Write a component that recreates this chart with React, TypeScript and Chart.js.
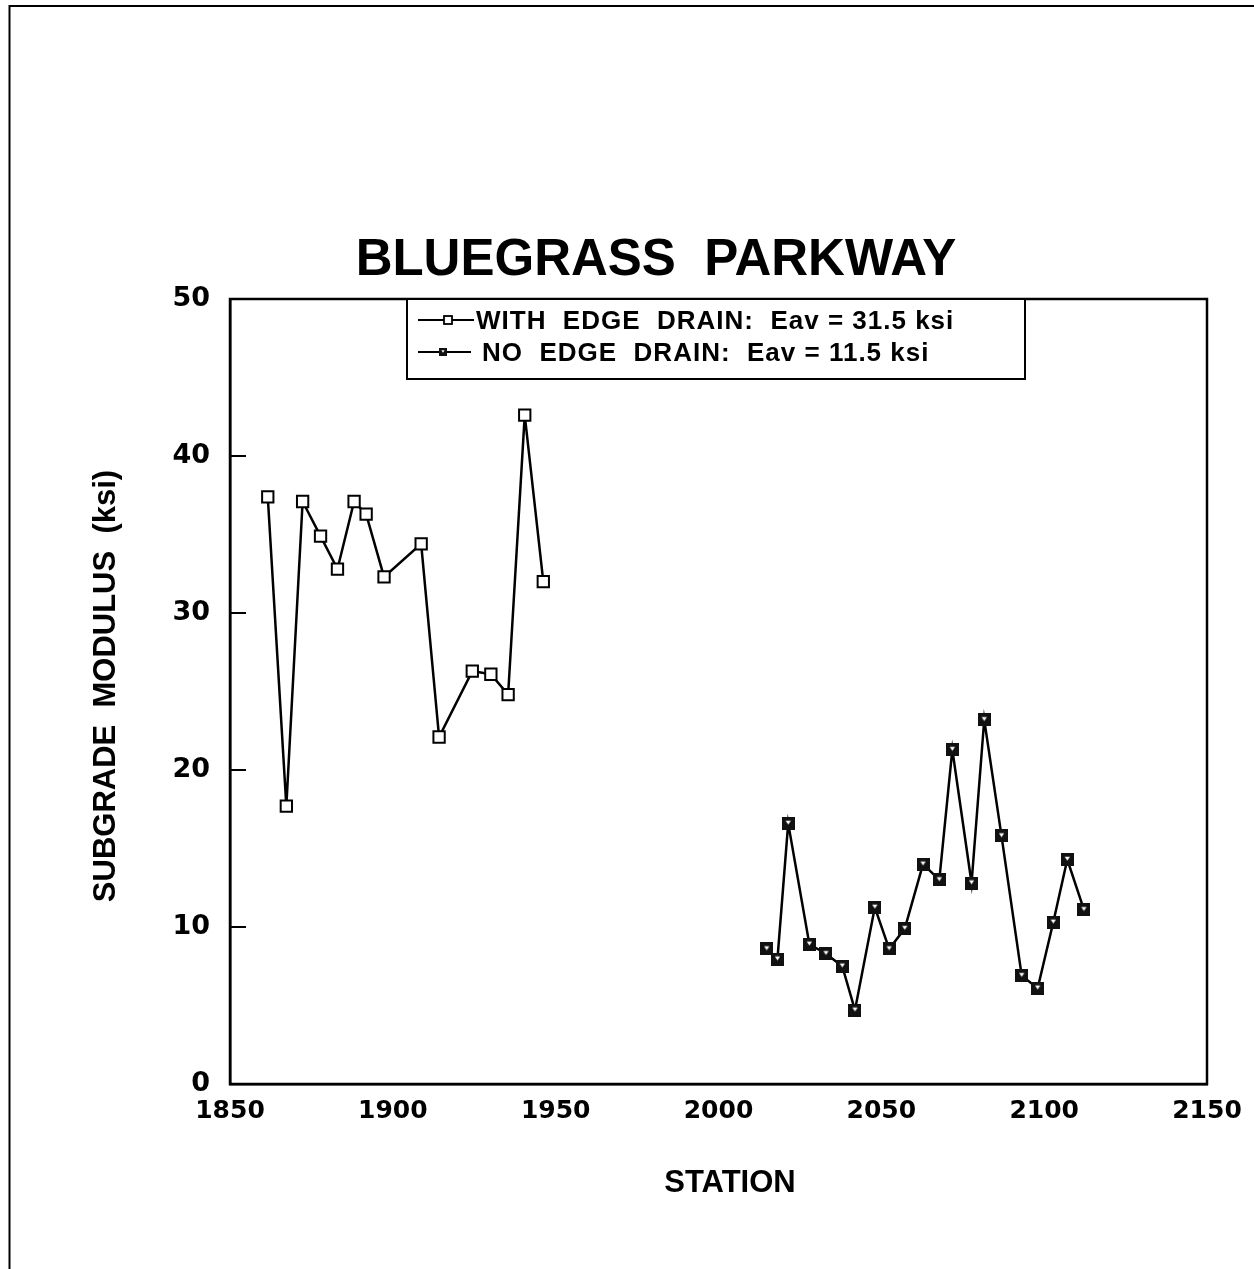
import React, { useEffect, useRef } from "react";
import { Chart, registerables } from "chart.js";

Chart.register(...registerables);

const TITLE = "BLUEGRASS  PARKWAY";
const X_TITLE = "STATION";
const Y_TITLE = "SUBGRADE  MODULUS  (ksi)";

const X_MIN = 1850;
const X_MAX = 2150;
const X_STEP = 50;
const Y_MIN = 0;
const Y_MAX = 50;
const Y_STEP = 10;

const withDrainLabel = "WITH  EDGE  DRAIN:  Eav = 31.5 ksi";
const withDrainStation = [1861.6, 1867.3, 1872.3, 1877.8, 1883.0, 1888.1, 1891.8, 1897.3, 1908.7, 1914.2, 1924.4, 1930.1, 1935.4, 1940.5, 1946.2];
const withDrainModulus = [37.4, 17.7, 37.1, 34.9, 32.8, 37.1, 36.3, 32.3, 34.4, 22.1, 26.3, 26.1, 24.8, 42.6, 32.0];

const noDrainLabel = "NO  EDGE  DRAIN:  Eav = 11.5 ksi";
const noDrainStation = [2014.8, 2018.1, 2021.4, 2027.9, 2033.0, 2038.0, 2041.9, 2048.0, 2052.4, 2057.2, 2062.8, 2067.8, 2071.8, 2077.7, 2081.6, 2086.9, 2093.1, 2098.0, 2102.8, 2107.1, 2112.2];
const noDrainModulus = [8.6, 7.95, 16.6, 8.9, 8.3, 7.5, 4.7, 11.25, 8.6, 9.9, 14.0, 13.0, 21.3, 12.8, 23.2, 15.8, 6.9, 6.1, 10.3, 14.3, 11.1];

const W = 1254;
const H = 1269;

function makeFilledMarker(size: number): HTMLCanvasElement {
  const c = document.createElement("canvas");
  c.width = size;
  c.height = size;
  const g = c.getContext("2d")!;
  g.fillStyle = "#111";
  g.fillRect(0, 0, size, size);
  g.fillStyle = "#fff";
  const m = size / 2;
  g.beginPath();
  g.moveTo(m - size * 0.2, size * 0.28);
  g.lineTo(m + size * 0.2, size * 0.28);
  g.lineTo(m, size * 0.6);
  g.closePath();
  g.fill();
  return c;
}

export default function App() {
  const ref = useRef<HTMLCanvasElement | null>(null);

  useEffect(() => {
    document.body.style.margin = "0";
    const canvas = ref.current!;
    const bigMarker = makeFilledMarker(13);
    const smallMarker = makeFilledMarker(8);

    const decor = {
      id: "decor",
      afterDraw(chart: any) {
        const ctx = chart.ctx;
        const a = chart.chartArea;
        const ys = chart.scales.y;
        ctx.save();
        ctx.strokeStyle = "#000";
        ctx.fillStyle = "#000";

        // page frame
        ctx.lineWidth = 2;
        ctx.beginPath();
        ctx.moveTo(9.5, H);
        ctx.lineTo(9.5, 6);
        ctx.lineTo(W, 6);
        ctx.stroke();

        // plot box
        ctx.lineWidth = 2.5;
        ctx.strokeRect(a.left, a.top, a.right - a.left, a.bottom - a.top);

        // inward y ticks
        ctx.lineWidth = 2;
        for (let v = Y_MIN + Y_STEP; v < Y_MAX; v += Y_STEP) {
          const py = ys.getPixelForValue(v);
          ctx.beginPath();
          ctx.moveTo(a.left, py);
          ctx.lineTo(a.left + 16, py);
          ctx.stroke();
        }

        // title
        ctx.textAlign = "center";
        ctx.textBaseline = "alphabetic";
        ctx.font = "bold 51px 'Liberation Sans', Arial, sans-serif";
        ctx.fillText(TITLE, 656, 275);

        // x title
        ctx.font = "bold 31px 'Liberation Sans', Arial, sans-serif";
        ctx.fillText(X_TITLE, 730, 1192);

        // y title
        ctx.save();
        ctx.translate(115, 686);
        ctx.rotate(-Math.PI / 2);
        ctx.font = "bold 31px 'Liberation Sans', Arial, sans-serif";
        ctx.fillText(Y_TITLE, 0, 0);
        ctx.restore();

        // legend box
        const lx = 407, ly = a.top, lw = 618, lh = 80;
        ctx.fillStyle = "#fff";
        ctx.fillRect(lx, ly, lw, lh);
        ctx.lineWidth = 2;
        ctx.strokeRect(lx, ly, lw, lh);
        ctx.fillStyle = "#000";

        const rows = [
          { y: 320, x1: 418, x2: 474, mx: 448, textX: 476, ds: chart.data.datasets[0], hollow: true },
          { y: 352, x1: 418, x2: 471, mx: 443, textX: 482, ds: chart.data.datasets[1], hollow: false },
        ];
        ctx.font = "bold 26px 'Liberation Sans', Arial, sans-serif";
        (ctx as any).letterSpacing = "1px";
        ctx.textAlign = "left";
        for (const r of rows) {
          ctx.lineWidth = 2;
          ctx.beginPath();
          ctx.moveTo(r.x1, r.y);
          ctx.lineTo(r.x2, r.y);
          ctx.stroke();
          if (r.hollow) {
            ctx.fillStyle = "#fff";
            ctx.fillRect(r.mx - 4, r.y - 4, 8, 8);
            ctx.lineWidth = 1.8;
            ctx.strokeRect(r.mx - 4, r.y - 4, 8, 8);
            ctx.fillStyle = "#000";
          } else {
            ctx.drawImage(smallMarker, r.mx - 4, r.y - 4);
          }
          ctx.fillText(r.ds.label, r.textX, r.y + 9);
        }
        (ctx as any).letterSpacing = "0px";
        ctx.restore();
      },
    };

    const chart = new Chart(canvas, {
      type: "line",
      data: {
        datasets: [
          {
            label: withDrainLabel,
            data: withDrainStation.map((x, i) => ({ x, y: withDrainModulus[i] })),
            borderColor: "#000",
            borderWidth: 2.5,
            pointStyle: "rect",
            pointRadius: 8,
            pointBorderWidth: 2,
            pointBorderColor: "#000",
            pointBackgroundColor: "#fff",
            tension: 0,
          },
          {
            label: noDrainLabel,
            data: noDrainStation.map((x, i) => ({ x, y: noDrainModulus[i] })),
            borderColor: "#000",
            borderWidth: 2.5,
            pointStyle: bigMarker as any,
            pointRadius: 6,
            tension: 0,
          },
        ],
      },
      options: {
        animation: false,
        responsive: false,
        devicePixelRatio: 1,
        layout: { padding: { top: 299, right: 47, left: 0, bottom: 0 } },
        plugins: {
          legend: { display: false },
          title: { display: false },
          tooltip: { enabled: false },
        },
        scales: {
          x: {
            type: "linear",
            min: X_MIN,
            max: X_MAX,
            afterFit: (s: any) => {
              s.height = H - 1084;
            },
            ticks: {
              stepSize: X_STEP,
              autoSkip: false,
              maxRotation: 0,
              padding: 12,
              color: "#000",
              callback: (v: any) => String(v),
              font: { family: "'DejaVu Sans', sans-serif", weight: "bold", size: 25 },
            },
            grid: { display: false, drawTicks: false },
            border: { display: true, color: "#000", width: 2.5 },
          },
          y: {
            type: "linear",
            min: Y_MIN,
            max: Y_MAX,
            afterFit: (s: any) => {
              s.width = 230;
            },
            ticks: {
              stepSize: Y_STEP,
              padding: 20,
              color: "#000",
              callback: (v: any) => String(v),
              font: { family: "'DejaVu Sans', sans-serif", weight: "bold", size: 27 },
            },
            grid: { display: false, drawTicks: false },
            border: { display: true, color: "#000", width: 2.5 },
          },
        },
      },
      plugins: [decor],
    });
    return () => chart.destroy();
  }, []);

  return (
    <canvas
      ref={ref}
      width={W}
      height={H}
      style={{ display: "block", width: W, height: H, background: "#fff" }}
    />
  );
}
